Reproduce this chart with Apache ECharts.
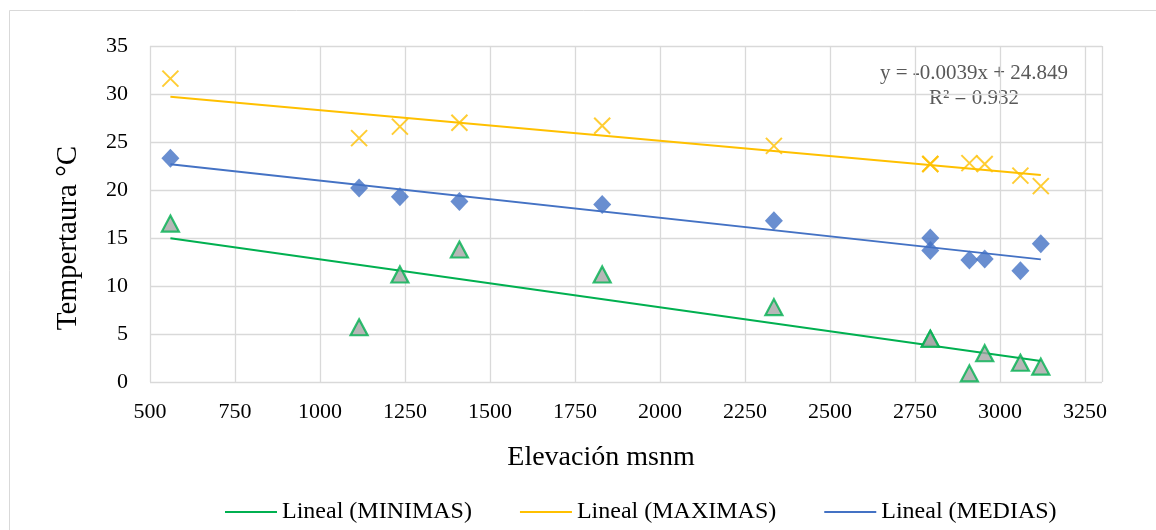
<!DOCTYPE html>
<html>
<head>
<meta charset="utf-8">
<script src="https://cdn.jsdelivr.net/npm/echarts@6/dist/echarts.min.js"></script>
<style>
html,body{margin:0;padding:0;background:#fff;}
#chart{width:1156px;height:530px;}
</style>
</head>
<body>
<div id="chart"></div>
<script>
// ---- Data ----
var elevation = [560, 1115, 1235, 1410, 1830, 2335, 2795, 2795, 2910, 2955, 3060, 3120];
var maximas   = [31.6, 25.4, 26.6, 27.0, 26.7, 24.6, 22.7, 22.7, 22.8, 22.7, 21.5, 20.4];
var medias    = [23.3, 20.2, 19.3, 18.8, 18.5, 16.8, 15.0, 13.7, 12.7, 12.8, 11.6, 14.4];
var minimas   = [16.5, 5.7, 11.2, 13.8, 11.2, 7.8, 4.5, 4.5, 0.9, 3.0, 2.0, 1.6];
var legendNames = ['Lineal (MINIMAS)', 'Lineal (MAXIMAS)', 'Lineal (MEDIAS)'];
var equationText = 'y = -0.0039x + 24.849';
var r2Text = 'R² = 0.932';
var xTitle = 'Elevación msnm';
var yTitle = 'Tempertaura °C';

var FONT = '"Liberation Serif", "Times New Roman", serif';
var C_MIN = '#00B050', C_MAX = '#FFC000', C_MED = '#4472C4';

function pairs(ys) { return elevation.map(function (x, i) { return [x, ys[i]]; }); }
function trend(ys) {
  var n = ys.length, sx = 0, sy = 0, sxx = 0, sxy = 0;
  for (var i = 0; i < n; i++) { var x = elevation[i], y = ys[i]; sx += x; sy += y; sxx += x * x; sxy += x * y; }
  var b = (n * sxy - sx * sy) / (n * sxx - sx * sx);
  var a = (sy - b * sx) / n;
  var x0 = Math.min.apply(null, elevation), x1 = Math.max.apply(null, elevation);
  return [[x0, a + b * x0], [x1, a + b * x1]];
}

var chart = echarts.init(document.getElementById('chart'), null, {renderer: 'canvas'});
var option = {
  backgroundColor: '#fff',
  animation: false,
  textStyle: {fontFamily: FONT},
  grid: {left: 150, right: 54, top: 46, bottom: 148},
  legend: {
    data: legendNames,
    left: 220, top: 495,
    icon: 'rect',
    itemWidth: 52, itemHeight: 2, itemGap: 48,
    textStyle: {fontFamily: FONT, fontSize: 24, color: '#000'}
  },
  xAxis: {
    type: 'value', min: 500, max: 3300, interval: 250,
    name: xTitle, nameLocation: 'middle', nameGap: 62,
    nameTextStyle: {fontFamily: FONT, fontSize: 28, color: '#000', padding: [0, 50, 0, 0]},
    axisLine: {show: false}, axisTick: {show: false},
    axisLabel: {fontFamily: FONT, fontSize: 22, color: '#000', margin: 19,
      formatter: function (v) { return v > 3250 ? '' : String(v); }},
    splitLine: {show: true, lineStyle: {color: '#D9D9D9', width: 1.3}}
  },
  yAxis: {
    type: 'value', min: 0, max: 35, interval: 5,
    name: yTitle, nameLocation: 'middle', nameGap: 67,
    nameTextStyle: {fontFamily: FONT, fontSize: 29, color: '#000', padding: [0, 48, 0, 0]},
    axisLine: {show: false}, axisTick: {show: false},
    axisLabel: {fontFamily: FONT, fontSize: 22, color: '#000', margin: 22},
    splitLine: {show: true, lineStyle: {color: '#D9D9D9', width: 1.3}}
  },
  graphic: [
    {type: 'rect', shape: {x: 9.5, y: 10.5, width: 1300, height: 700}, style: {fill: 'none', stroke: '#D9D9D9', lineWidth: 1}, silent: true, z: -10},
    {type: 'text', x: 974, y: 73, style: {text: equationText, fontFamily: FONT, fontSize: 21, fill: '#595959', align: 'center', verticalAlign: 'middle'}},
    {type: 'text', x: 974, y: 98, style: {text: r2Text, fontFamily: FONT, fontSize: 21, fill: '#595959', align: 'center', verticalAlign: 'middle'}}
  ],
  series: [
    {name: legendNames[0], type: 'line', data: trend(minimas), symbol: 'none', lineStyle: {color: C_MIN, width: 2}, itemStyle: {color: C_MIN}, z: 2},
    {name: legendNames[1], type: 'line', data: trend(maximas), symbol: 'none', lineStyle: {color: C_MAX, width: 2}, itemStyle: {color: C_MAX}, z: 2},
    {name: legendNames[2], type: 'line', data: trend(medias), symbol: 'none', lineStyle: {color: C_MED, width: 2}, itemStyle: {color: C_MED}, z: 2},
    {name: 'MINIMAS', type: 'scatter', data: pairs(minimas), symbol: 'triangle', symbolSize: [17, 16],
      itemStyle: {color: '#A5A5A5', borderColor: C_MIN, borderWidth: 2.2}, z: 3},
    {name: 'MAXIMAS', type: 'scatter', data: pairs(maximas), symbol: 'path://M0,0L10,10M10,0L0,10', symbolSize: 16,
      itemStyle: {color: 'none', borderColor: C_MAX, borderWidth: 2}, z: 3},
    {name: 'MEDIAS', type: 'scatter', data: pairs(medias), symbol: 'diamond', symbolSize: [18, 19],
      itemStyle: {color: C_MED}, z: 3}
  ]
};
chart.setOption(option);
</script>
</body>
</html>
